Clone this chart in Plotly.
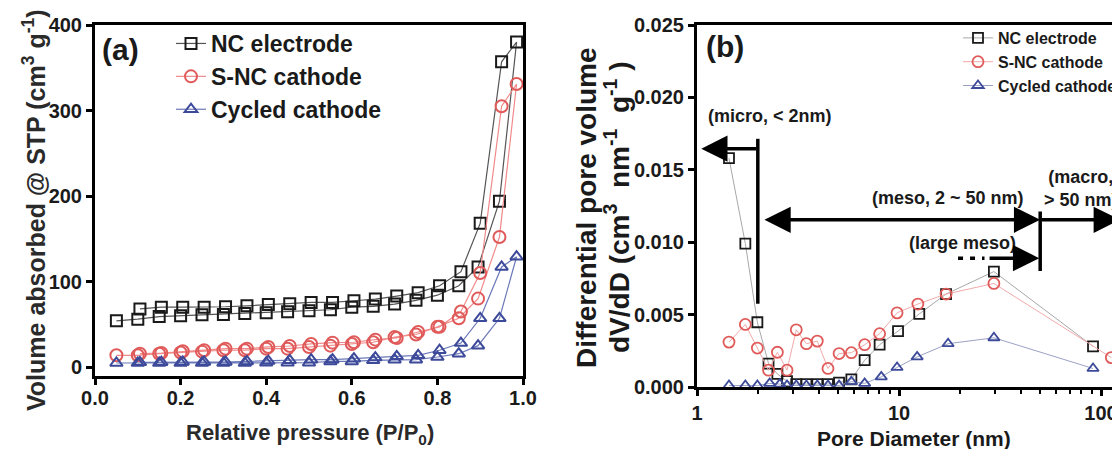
import math
import plotly.graph_objects as go

# ---------------- Data: panel (a) N2 isotherms ----------------
pressure_ads = [0.05, 0.10, 0.15, 0.20, 0.25, 0.30, 0.35, 0.40, 0.45, 0.50,
                0.55, 0.60, 0.65, 0.70, 0.75, 0.80, 0.85, 0.895, 0.945, 0.985]
pressure_des = [0.95, 0.90, 0.855, 0.805, 0.755, 0.705, 0.655, 0.605, 0.555, 0.505,
                0.455, 0.405, 0.355, 0.305, 0.255, 0.205, 0.155, 0.105]

nc_ads = [54, 56, 59, 60, 61, 61.5, 62.6, 63.4, 64.6, 65.8,
          67, 70, 71, 73.6, 78, 84, 95, 117, 194, 380]
nc_des = [357, 168, 111.5, 95, 87, 83, 79.5, 77.5, 75.5, 75.5,
          74, 73, 71.6, 70.5, 70, 70, 70, 68]

snc_ads = [13.7, 13.7, 15.6, 17, 18, 19.6, 19.6, 21.5, 21.5, 23.5,
           25, 27, 29, 35, 38, 47, 57, 80, 152, 331]
snc_des = [305, 110, 65, 47, 41, 34, 32, 29, 28.5, 27,
           24.6, 23.5, 21.5, 21.5, 19.6, 18.4, 16.4, 15.6]

cyc_ads = [4.7, 4.7, 4.7, 4.7, 4.7, 4.7, 4.7, 5, 5, 5,
           6.6, 6.6, 7.8, 8.6, 8.6, 11.7, 15.6, 25, 57, 129]
cyc_des = [117, 57, 28, 19.6, 13.7, 12.5, 11, 9.8, 8.6, 8.6,
           7.8, 7, 6.6, 5.9, 5.9, 5.9, 5.7, 5.5]

# ---------------- Data: panel (b) pore size distribution ----------------
nc_d = [1.44, 1.735, 1.99, 2.26, 2.50, 2.79, 3.10, 3.48, 3.94, 4.45,
        5.05, 5.81, 6.76, 8.02, 9.89, 12.6, 17.1, 29.5, 91.3]
nc_v = [0.0158, 0.0099, 0.00447, 0.00162, 0.0009, 0.0004, 0.0002, 0.0002, 0.0002, 0.0002,
        0.0003, 0.00053, 0.00185, 0.00292, 0.00386, 0.00505, 0.00642, 0.00797, 0.00281]

snc_d = [1.44, 1.735, 1.99, 2.26, 2.50, 2.79, 3.10, 3.48, 3.94, 4.45,
         5.05, 5.81, 6.76, 8.02, 9.78, 12.4, 17.1, 29.5, 112.5]
snc_v = [0.0031, 0.00432, 0.00269, 0.00116, 0.0024, 0.00116, 0.00395, 0.00299, 0.00317, 0.00128,
         0.00231, 0.00237, 0.00292, 0.00368, 0.00512, 0.00573, 0.00642, 0.00715, 0.00203]

cyc_d = [1.44, 1.735, 1.99, 2.29, 2.57, 2.79, 3.10, 3.48, 3.94, 4.45,
         5.05, 5.81, 6.76, 8.17, 9.78, 12.3, 17.5, 29.5, 91.3]
cyc_v = [0.0001, 0.0001, 0.0001, 0.00025, 0.0002, 0.0001, 0.0001, 0.0001, 0.0001, 0.0001,
         0.0001, 0.00037, 0.00025, 0.0007, 0.00135, 0.00208, 0.00299, 0.0034, 0.00128]

series_names = ["NC electrode", "S-NC cathode", "Cycled cathode"]
x_ticks_a = [0.0, 0.2, 0.4, 0.6, 0.8, 1.0]
y_ticks_a = [0, 100, 200, 300, 400]
y_ticks_b = [0.000, 0.005, 0.010, 0.015, 0.020, 0.025]
x_ticks_b = [1, 10, 100]

# region boundaries (nm) used for the annotation arrows
micro_limit = 2
meso_limit = 50

FONT = "Arial, Liberation Sans, Helvetica, sans-serif"
W, H = 1120, 449
OFF_X = 5  # on-screen shift of the figure caused by the page margin
OFF_Y = 8

styles = [
    dict(symbol="square-open", color="#1a1a1a", line="#555555", line_b="#a8a8a8"),
    dict(symbol="circle-open", color="#e05a5a", line="#f08a8a", line_b="#f2aaaa"),
    dict(symbol="triangle-up-open", color="#3d4a9a", line="#6a78b8", line_b="#9aa2c4"),
]

fig = go.Figure()

iso = [(nc_ads, nc_des), (snc_ads, snc_des), (cyc_ads, cyc_des)]
msize_a = [11, 12, 11]
for (ads, des), name, st, ms in zip(iso, series_names, styles, msize_a):
    fig.add_trace(go.Scatter(
        x=pressure_ads + pressure_des, y=ads + des, name=name,
        mode="lines+markers", xaxis="x", yaxis="y", legend="legend",
        line=dict(color=st["line"], width=1.2),
        marker=dict(symbol=st["symbol"], size=ms, color=st["color"],
                    line=dict(width=2, color=st["color"])),
    ))

psd = [(nc_d, nc_v), (snc_d, snc_v), (cyc_d, cyc_v)]
msize_b = [10, 11, 10]
for (d, v), name, st, ms in zip(psd, series_names, styles, msize_b):
    fig.add_trace(go.Scatter(
        x=d, y=v, name=name, mode="lines+markers", xaxis="x2", yaxis="y2",
        legend="legend2",
        line=dict(color=st["line_b"], width=1),
        marker=dict(symbol=st["symbol"], size=ms, color=st["color"],
                    line=dict(width=1.8, color=st["color"])),
    ))

# vertical boundary lines in (b)
fig.add_trace(go.Scatter(x=[micro_limit, micro_limit], y=[0.00575, 0.01714],
                         mode="lines", xaxis="x2", yaxis="y2", showlegend=False,
                         line=dict(color="black", width=3.5), hoverinfo="skip"))
fig.add_trace(go.Scatter(x=[meso_limit, meso_limit], y=[0.00801, 0.01212],
                         mode="lines", xaxis="x2", yaxis="y2", showlegend=False,
                         line=dict(color="black", width=3.5), hoverinfo="skip"))
fig.add_trace(go.Scatter(x=[19.6, 26.5], y=[0.0089, 0.0089],
                         mode="lines", xaxis="x2", yaxis="y2", showlegend=False,
                         line=dict(color="black", width=3.5, dash="5px,7px"),
                         hoverinfo="skip"))

def px_x(p):
    return (p - OFF_X) / W

def px_y(p):
    return 1 - (p - OFF_Y) / H

axis_common = dict(showline=True, linewidth=3, linecolor="black",
                   ticks="outside", ticklen=6, tickwidth=2.5, tickcolor="black",
                   showgrid=False, zeroline=False, automargin=False,
                   tickfont=dict(family=FONT, size=20, color="#1a1a1a", weight="bold"))

# panel (b) x axis: 1 at 694 px, 202 px per decade, extends past the right edge
b_left = 694
b_decade = 202
b_right_fig = W + OFF_X
fig.update_layout(
    template="none",
    width=W, height=H,
    margin=dict(l=0, r=0, t=0, b=0, pad=0, autoexpand=False),
    paper_bgcolor="white", plot_bgcolor="white",
    xaxis=dict(domain=[px_x(92), px_x(520)], range=[0, 1.0], tickvals=x_ticks_a,
               ticktext=[f"{t:.1f}" for t in x_ticks_a], anchor="y", mirror=True,
               ticklabelstandoff=-4, **axis_common),
    yaxis=dict(domain=[px_y(376), px_y(25)], range=[-10.5, 400], tickvals=y_ticks_a,
               anchor="x", mirror=True, **axis_common),
    xaxis2=dict(domain=[px_x(b_left), 1.0], type="log",
                range=[0, (b_right_fig - b_left) / b_decade],
                tickvals=x_ticks_b, ticktext=[str(t) for t in x_ticks_b], anchor="y2",
                minor=dict(ticks="outside", ticklen=4, tickwidth=2, tickcolor="black",
                           dtick="D1"),
                mirror=True, **axis_common),
    yaxis2=dict(domain=[px_y(387), px_y(25)], range=[0, 0.025], tickvals=y_ticks_b,
                ticktext=[f"{t:.3f}" for t in y_ticks_b], anchor="x2", mirror=False,
                **axis_common),
    legend=dict(x=px_x(168), y=px_y(22), xanchor="left", yanchor="top",
                bgcolor="rgba(0,0,0,0)", borderwidth=0, tracegroupgap=0,
                font=dict(family=FONT, size=23, color="#1a1a1a", weight="bold")),
    legend2=dict(x=px_x(955), y=px_y(21), xanchor="left", yanchor="top",
                 bgcolor="rgba(0,0,0,0)", borderwidth=0, tracegroupgap=0,
                 font=dict(family=FONT, size=16, color="#1a1a1a", weight="bold")),
    showlegend=True,
)

ann = []
centre = dict(xanchor="center", yanchor="middle", showarrow=False)
# panel labels
ann.append(dict(centre, text="(a)", x=px_x(117), y=px_y(49), xref="paper", yref="paper",
                font=dict(family=FONT, size=30, color="#1a1a1a", weight="bold")))
ann.append(dict(centre, text="(b)", x=px_x(722), y=px_y(46), xref="paper", yref="paper",
                font=dict(family=FONT, size=30, color="#1a1a1a", weight="bold")))
# axis titles
ann.append(dict(centre, text="Relative pressure (P/P<sub>0</sub>)", x=px_x(307),
                y=px_y(434), xref="paper", yref="paper",
                font=dict(family=FONT, size=22, color="#2a2a2a", weight="bold")))
ann.append(dict(centre, text="Volume absorbed @ STP (cm<sup>3</sup> g<sup>-1</sup>)",
                x=px_x(31), y=px_y(210), xref="paper", yref="paper", textangle=-90,
                font=dict(family=FONT, size=25, color="#2a2a2a", weight="bold")))
ann.append(dict(centre, text="Pore Diameter (nm)", x=px_x(911), y=px_y(438),
                xref="paper", yref="paper",
                font=dict(family=FONT, size=21, color="#1a1a1a", weight="bold")))
ann.append(dict(centre, text="Differential pore volume", x=px_x(583), y=px_y(208),
                xref="paper", yref="paper", textangle=-90,
                font=dict(family=FONT, size=28, color="#1a1a1a", weight="bold")))
ann.append(dict(centre,
                text="dV/dD (cm<sup>3</sup>&nbsp; nm<sup>-1</sup>&nbsp; g<sup>-1</sup>&nbsp;)",
                x=px_x(614), y=px_y(207), xref="paper", yref="paper", textangle=-90,
                font=dict(family=FONT, size=28, color="#1a1a1a", weight="bold")))

lg = math.log10
txt_font = dict(family=FONT, size=18, color="#1a1a1a", weight="bold")
ann.append(dict(centre, text="(micro, &lt; 2nm)", x=lg(2.30), y=0.0187, xref="x2",
                yref="y2", font=txt_font))
ann.append(dict(centre, text="(meso, 2 ~ 50 nm)", x=lg(17.4), y=0.01308, xref="x2",
                yref="y2", font=txt_font))
ann.append(dict(centre, text="(macro,<br>&gt; 50 nm)", x=lg(80), y=0.0137, xref="x2",
                yref="y2", font=txt_font, align="center"))
ann.append(dict(centre, text="(large meso)", x=lg(20.6), y=0.00995, xref="x2",
                yref="y2", font=txt_font))

arrow = dict(xref="x2", yref="y2", axref="x2", ayref="y2", text="", showarrow=True,
             arrowhead=2, arrowsize=1.5, arrowwidth=3.5, arrowcolor="black", standoff=0,
             startstandoff=0)
ann.append(dict(arrow, x=lg(1.05), y=0.01646, ax=lg(micro_limit), ay=0.01646))
ann.append(dict(arrow, x=lg(meso_limit), y=0.01155, ax=lg(2.12), ay=0.01155,
                arrowside="end+start"))
ann.append(dict(arrow, x=lg(124), y=0.01155, ax=lg(meso_limit), ay=0.01155))
ann.append(dict(arrow, x=lg(meso_limit) - 0.005, y=0.0089, ax=lg(27.6), ay=0.0089))

fig.update_layout(annotations=ann)

fig.write_html("out.html")
